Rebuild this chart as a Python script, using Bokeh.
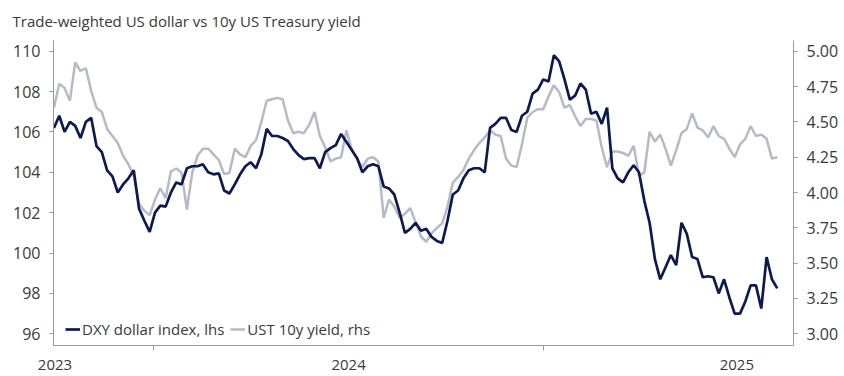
import pandas as pd
from bokeh.plotting import figure
from bokeh.models import (LinearAxis, Range1d, FixedTicker, Legend, LegendItem,
                          NumeralTickFormatter)
from bokeh.embed import file_html
from bokeh.resources import INLINE

start_date = "2023-09-29"
step = "5D"

dxy = [106.2, 106.8, 106.0, 106.5, 106.3, 105.7, 106.5, 106.7, 105.3, 105.0,
       104.1, 103.8, 103.0, 103.4, 103.7, 104.1, 102.2, 101.6, 101.05, 102.0,
       102.35, 102.3, 103.0, 103.5, 103.4, 104.2, 104.3, 104.3, 104.4, 104.0,
       103.9, 103.95, 103.1, 102.95, 103.4, 103.9, 104.3, 104.5, 104.2, 104.9,
       106.15, 105.8, 105.8, 105.7, 105.55, 105.15, 104.85, 104.65, 104.7, 104.7,
       104.2, 105.0, 105.2, 105.35, 105.9, 105.5, 105.1, 104.7, 104.0, 104.3,
       104.4, 104.3, 103.3, 103.2, 102.9, 102.0, 101.0, 101.2, 101.5, 101.1,
       101.2, 100.8, 100.6, 100.5, 101.6, 102.9, 103.1, 103.7, 104.1, 104.2,
       104.2, 104.0, 106.2, 106.4, 106.7, 106.7, 106.1, 106.0, 106.8, 107.0,
       107.9, 108.1, 108.6, 108.5, 109.8, 109.5, 108.6, 107.6, 107.8, 108.4,
       108.1, 106.9, 107.0, 106.4, 107.2, 104.2, 103.7, 103.5, 104.0, 104.35,
       104.0, 102.6, 101.5, 99.7, 98.7, 99.3, 99.9, 99.4, 101.5, 100.95,
       99.8, 99.7, 98.8, 98.85, 98.8, 98.0, 98.7, 97.8, 97.0, 97.0,
       97.6, 98.4, 98.4, 97.25, 99.8, 98.7, 98.25]

ust10y = [4.60, 4.77, 4.74, 4.65, 4.92, 4.86, 4.88, 4.72, 4.60, 4.57,
          4.45, 4.40, 4.35, 4.26, 4.20, 4.12, 3.92, 3.87, 3.84, 3.95,
          4.03, 3.96, 4.15, 4.17, 4.14, 3.88, 4.14, 4.26, 4.31, 4.31,
          4.27, 4.23, 4.13, 4.14, 4.31, 4.27, 4.25, 4.33, 4.37, 4.50,
          4.65, 4.66, 4.67, 4.66, 4.51, 4.42, 4.43, 4.42, 4.48, 4.57,
          4.40, 4.32, 4.22, 4.24, 4.25, 4.44, 4.30, 4.24, 4.18, 4.24,
          4.25, 4.22, 3.82, 3.95, 3.90, 3.82, 3.85, 3.89, 3.79, 3.69,
          3.65, 3.71, 3.75, 3.78, 3.90, 4.07, 4.11, 4.16, 4.24, 4.30,
          4.35, 4.39, 4.44, 4.41, 4.40, 4.24, 4.19, 4.18, 4.34, 4.53,
          4.57, 4.59, 4.59, 4.68, 4.76, 4.71, 4.60, 4.62, 4.54, 4.47,
          4.52, 4.52, 4.51, 4.32, 4.18, 4.29, 4.29, 4.28, 4.26, 4.33,
          4.12, 4.14, 4.43, 4.36, 4.41, 4.31, 4.19, 4.30, 4.42, 4.45,
          4.56, 4.46, 4.44, 4.39, 4.47, 4.40, 4.38, 4.31, 4.25, 4.34,
          4.38, 4.47, 4.40, 4.41, 4.38, 4.24, 4.25]

dates = pd.date_range(start_date, periods=len(dxy), freq=step)

x_start, x_end = "2023-09-28 14:00", "2025-08-24 07:00"
year_boundaries = ["2024-01-01", "2025-01-01"]
year_label_dates = ["2023-09-30", "2024-07-02", "2025-07-02"]
year_labels = ["2023", "2024", "2025"]

dxy_ticks = [96, 98, 100, 102, 104, 106, 108, 110]
ust_ticks = [3.00, 3.25, 3.50, 3.75, 4.00, 4.25, 4.50, 4.75, 5.00]
dxy_range = (95.42, 110.53)
ust_range = (2.917, 5.076)

title_text = "Trade-weighted US dollar vs 10y US Treasury yield"
dxy_label = "DXY dollar index, lhs"
ust_label = "UST 10y yield, rhs"

# ---------------- styling -------------
NAVY = "#0d1a52"
GREY = "#b6bac7"
AXIS = "#9a9a9a"
TXT = "#3a3a3a"
FONT = "Open Sans"


def ms(d):
    return pd.Timestamp(d).value / 1e6


p = figure(frame_width=740, frame_height=305, x_axis_type="datetime",
           x_range=Range1d(pd.Timestamp(x_start), pd.Timestamp(x_end)),
           y_range=Range1d(*dxy_range),
           output_backend="svg", toolbar_location=None,
           min_border_left=53, min_border_right=51,
           min_border_top=40, min_border_bottom=31)
p.extra_y_ranges = {"ust": Range1d(*ust_range)}

r_ust = p.line(dates, ust10y, y_range_name="ust", line_color=GREY, line_width=2.5)
r_dxy = p.line(dates, dxy, line_color=NAVY, line_width=2.7)

# title
p.title.text = title_text
p.title.align = "left"
p.title.vertical_align = "top"
p.title.offset = -41
p.title.standoff = 15
p.title.text_font = FONT
p.title.text_font_size = "15px"
p.title.text_font_style = "normal"
p.title.text_color = TXT

# grid / outline
p.xgrid.visible = False
p.ygrid.visible = False
p.outline_line_color = None
p.background_fill_color = "white"
p.border_fill_color = "white"

# x axis
xa = p.xaxis[0]
xa.ticker = FixedTicker(ticks=[ms(d) for d in year_label_dates],
                        minor_ticks=[ms(d) for d in year_boundaries])
xa.major_label_overrides = {ms(d): lab for d, lab in zip(year_label_dates, year_labels)}
xa.major_tick_line_color = None
xa.major_tick_out = 0
xa.major_tick_in = 0
xa.minor_tick_line_color = AXIS
xa.minor_tick_out = 5
xa.minor_tick_in = 0
xa.axis_line_color = AXIS
xa.major_label_standoff = 9
xa.major_label_text_font = FONT
xa.major_label_text_font_size = "15px"
xa.major_label_text_color = TXT

# left axis
ya = p.yaxis[0]
ya.ticker = FixedTicker(ticks=dxy_ticks)
ya.minor_tick_line_color = None
ya.major_tick_out = 4
ya.major_tick_in = 0
ya.major_tick_line_color = AXIS
ya.axis_line_color = AXIS
ya.major_label_standoff = 9
ya.major_label_text_font = FONT
ya.major_label_text_font_size = "16px"
ya.major_label_text_color = TXT

# right axis
ra = LinearAxis(y_range_name="ust", ticker=FixedTicker(ticks=ust_ticks),
                formatter=NumeralTickFormatter(format="0.00"))
ra.minor_tick_line_color = None
ra.major_tick_out = 4
ra.major_tick_in = 0
ra.major_tick_line_color = AXIS
ra.axis_line_color = AXIS
ra.major_label_standoff = 9
ra.major_label_text_font = FONT
ra.major_label_text_font_size = "16px"
ra.major_label_text_color = TXT
p.add_layout(ra, "right")

# legend
legend = Legend(items=[LegendItem(label=dxy_label, renderers=[r_dxy]),
                       LegendItem(label=ust_label, renderers=[r_ust])],
                orientation="horizontal", location=(12, 6),
                padding=0, margin=0, spacing=6,
                glyph_width=15, glyph_height=14, label_standoff=2,
                label_text_font=FONT, label_text_font_size="15px",
                label_text_color=TXT,
                background_fill_alpha=0, border_line_alpha=0)
p.add_layout(legend)

open("out.html", "w").write(file_html(p, INLINE))
